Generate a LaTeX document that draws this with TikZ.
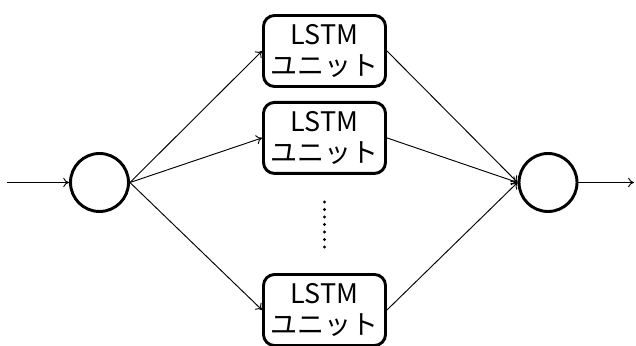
\documentclass[tikz,border=0pt]{standalone}
\usepackage{fontspec}
\setmainfont{Noto Sans CJK JP}
\usetikzlibrary{positioning, arrows.meta}
\tikzstyle{unit} = [rectangle, rounded corners=0.33cm, minimum width=3.66cm, minimum height=2.13cm, inner sep=0pt, align=center, draw=black, line width=2.5pt, font=\fontsize{23}{26.5}\selectfont]
\tikzstyle{junction} = [circle, minimum size=1.74cm, inner sep=0pt, draw=black, line width=2.5pt]
\tikzstyle{flow} = [-{To[length=5pt, width=8pt]}, line width=0.8pt]

\begin{document}
\begin{tikzpicture}[x=0.03cm, y=-0.03cm]
				\useasboundingbox (0,0) rectangle (636,346);
				\node (split) [junction] at (99.5,182.5) {};
				\node (merge) [junction] at (548,182.5) {};
				\node (unit1) [unit] at (324.5,51) {LSTM\\ユニット};
				\node (unit2) [unit, below=0.39cm of unit1] {LSTM\\ユニット};
				\node (unitn) [unit] at (324.5,310) {LSTM\\ユニット};
				\coordinate (src) at (7,182.5);
				\coordinate (dst) at (634,182.5);
				
				% vertical ellipsis between the units
				\foreach \y in {202,209.5,...,248} \fill (324.5,\y) circle (1.4pt);
				
				\draw[flow] (src) -- (split);
				\foreach \u in {unit1, unit2, unitn} {
					\draw[flow] (split.east) -- (\u.west);
					\draw[flow] (\u.east) -- (merge.west);
				}
				\draw[flow] (merge) -- (dst);
			\end{tikzpicture}
\end{document}
